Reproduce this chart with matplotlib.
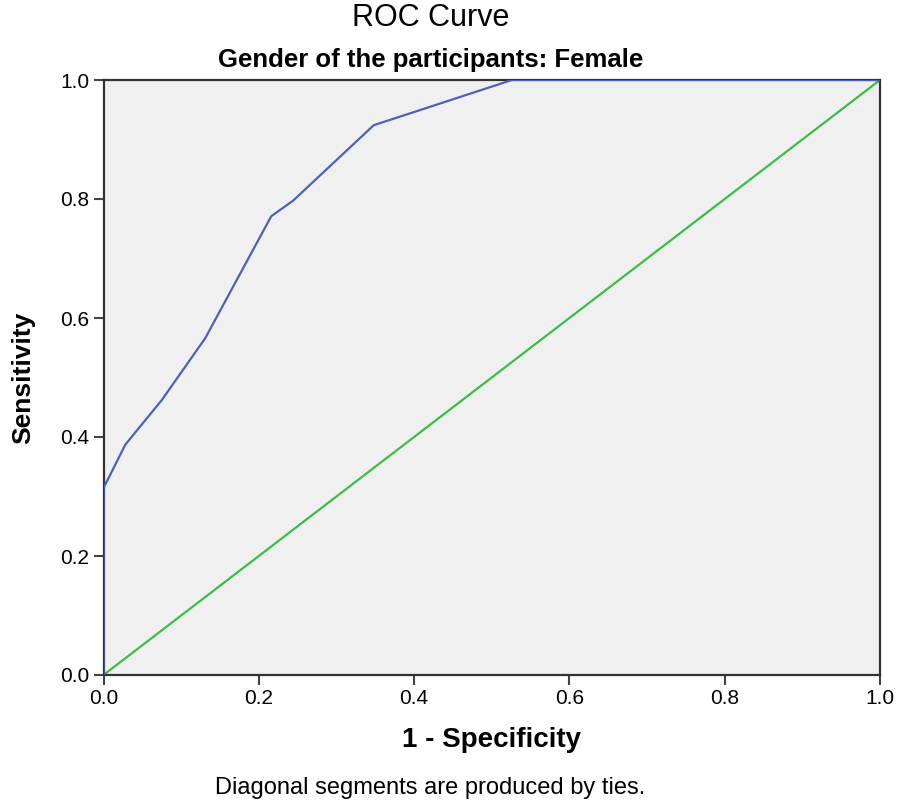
import matplotlib
matplotlib.use("Agg")
import matplotlib.pyplot as plt

# ROC curve points (1 - Specificity, Sensitivity)
fpr = [0.0, 0.0, 0.028, 0.075, 0.131, 0.216, 0.244, 0.348, 0.526, 1.0]
tpr = [0.0, 0.314, 0.387, 0.462, 0.566, 0.771, 0.797, 0.924, 1.0, 1.0]
ref_x = [0.0, 1.0]
ref_y = [0.0, 1.0]
ticks = [0.0, 0.2, 0.4, 0.6, 0.8, 1.0]
tick_labels = ["0.0", "0.2", "0.4", "0.6", "0.8", "1.0"]

fam = ["Liberation Sans Narrow", "Liberation Sans", "DejaVu Sans"]
plt.rcParams["font.family"] = fam

fig = plt.figure(figsize=(8.98, 8.07), dpi=100)
ax = fig.add_axes([103.5/898, 132/807, 776.5/898, 595/807])
ax.set_facecolor("#f0f0f0")

ax.plot(ref_x, ref_y, color="#3cbd46", lw=1.6, zorder=2)
ax.plot(fpr, tpr, color="#4a63b8", lw=1.6, zorder=3)

ax.set_xlim(0, 1)
ax.set_ylim(0, 1)
ax.set_xticks(ticks)
ax.set_xticklabels(tick_labels)
ax.set_yticks(ticks)
ax.set_yticklabels(tick_labels)
ax.tick_params(direction="out", length=7, width=1.5, color="#444444",
               labelsize=15, pad=3)
for sp in ax.spines.values():
    sp.set_linewidth(1.6)
    sp.set_color("#333333")

ax.set_xlabel("1 - Specificity", fontsize=20, fontweight="bold", labelpad=14)
ax.set_ylabel("Sensitivity", fontsize=19, fontweight="bold", labelpad=18)

fig.text(0.4795, 1 - 18/807, "ROC Curve", ha="center", va="center", fontsize=22)
fig.text(0.4795, 1 - 60/807, "Gender of the participants: Female", ha="center",
         va="center", fontsize=18.5, fontweight="bold")
fig.text(0.4795, 1 - 788/807, "Diagonal segments are produced by ties.",
         ha="center", va="center", fontsize=17)

fig.savefig("out.png", dpi=100, facecolor="white")
